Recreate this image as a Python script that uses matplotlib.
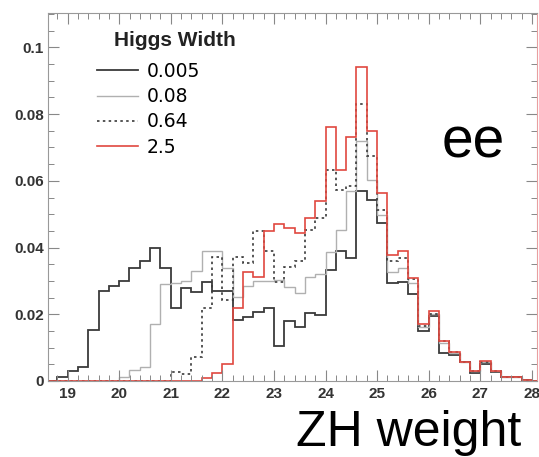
import matplotlib
matplotlib.use("Agg")
import matplotlib.pyplot as plt
from matplotlib.ticker import MultipleLocator
import numpy as np

# ZH weight distributions, bin width 0.2 from 18.6 to 28.2
edges = np.round(np.arange(18.6, 28.2001, 0.2), 1)

w0005 = [0, 0.0012, 0.003, 0.0043, 0.0153, 0.027, 0.0285, 0.030, 0.034, 0.036,
         0.040, 0.034, 0.022, 0.0278, 0.0268, 0.0298, 0.027, 0.027, 0.0183, 0.0193,
         0.0208, 0.0218, 0.0105, 0.018, 0.0163, 0.0205, 0.0198, 0.0333, 0.039, 0.037,
         0.057, 0.0543, 0.0473, 0.0293, 0.0298, 0.026, 0.0151, 0.0195, 0.0083, 0.0078,
         0.0058, 0.0025, 0.0051, 0.0028, 0.0013, 0.0013, 0.0002, 0]
w008 = [0, 0, 0, 0, 0, 0, 0, 0.0013, 0.0033, 0.0043,
        0.017, 0.029, 0.0293, 0.030, 0.033, 0.039, 0.039, 0.0338, 0.0253, 0.0285,
        0.030, 0.030, 0.0303, 0.0283, 0.0263, 0.0313, 0.032, 0.0388, 0.0453, 0.057,
        0.0718, 0.0603, 0.0498, 0.0328, 0.0338, 0.0295, 0.0162, 0.020, 0.0115, 0.0085,
        0.0058, 0.003, 0.0057, 0.003, 0.0013, 0.0013, 0.0002, 0]
w064 = [0, 0, 0, 0, 0, 0, 0, 0, 0, 0,
        0, 0, 0.0028, 0.0021, 0.0073, 0.022, 0.0373, 0.0243, 0.0371, 0.0355,
        0.0451, 0.039, 0.0298, 0.0343, 0.036, 0.0452, 0.0488, 0.0633, 0.0573, 0.0583,
        0.083, 0.0673, 0.0513, 0.036, 0.0368, 0.0305, 0.0165, 0.0202, 0.012, 0.0086,
        0.0058, 0.003, 0.0058, 0.003, 0.0013, 0.0013, 0.0002, 0]
w25 = [0, 0, 0, 0, 0, 0, 0, 0, 0, 0,
       0, 0, 0, 0, 0, 0.0008, 0.0023, 0.0051, 0.022, 0.0328,
       0.0313, 0.0451, 0.047, 0.0458, 0.0443, 0.0488, 0.054, 0.076, 0.0633, 0.073,
       0.094, 0.075, 0.0563, 0.0378, 0.039, 0.031, 0.0171, 0.021, 0.0121, 0.0088,
       0.0058, 0.0031, 0.006, 0.0031, 0.0013, 0.0013, 0.0002, 0]

labels = ["0.005", "0.08", "0.64", "2.5"]

fig = plt.figure(figsize=(5.39, 4.57), dpi=100)
ax = fig.add_axes([48 / 539, 76 / 457, 489 / 539, 368 / 457])

ax.stairs(w0005, edges, color="#3a3a3a", lw=1.3, label=labels[0])
ax.stairs(w008, edges, color="#b0b0b0", lw=1.0, label=labels[1])
ax.stairs(w064, edges, color="#3a3a3a", lw=1.2, ls=(0, (1.5, 2)), label=labels[2])
ax.stairs(w25, edges, color="#e0483f", lw=1.2, label=labels[3])

ax.set_xlim(18.62, 28.1)
ax.set_ylim(0, 0.1103)

ax.xaxis.set_major_locator(MultipleLocator(1))
ax.xaxis.set_minor_locator(MultipleLocator(0.2))
ax.yaxis.set_major_locator(MultipleLocator(0.02))
ax.yaxis.set_minor_locator(MultipleLocator(0.005))
ax.yaxis.set_major_formatter(matplotlib.ticker.FuncFormatter(
    lambda v, pos: "0" if v == 0 else f"{v:g}"))

ax.tick_params(which="both", direction="in", top=True, right=True, color="#888888",
               labelcolor="#333333")
ax.tick_params(which="major", length=8, width=0.8)
ax.tick_params(which="minor", length=4, width=0.7)
ax.tick_params(axis="y", pad=3)
ax.tick_params(axis="x", pad=4)
for lab in ax.get_xticklabels() + ax.get_yticklabels():
    lab.set_fontfamily("Liberation Sans")
    lab.set_fontweight("bold")
    lab.set_fontsize(11)

for side in ["left", "top", "bottom"]:
    ax.spines[side].set_color("#999999")
ax.spines["right"].set_color("#e8a0a0")

ax.text(114 / 539 - 48 / 539, 0, "Higgs Width", fontsize=15, fontweight="bold",
        family="Liberation Sans", color="#222222", va="center",
        transform=matplotlib.transforms.blended_transform_factory(fig.transFigure, fig.transFigure)
        + matplotlib.transforms.Affine2D().translate(48, 457 - 41))
ax.legend(loc="upper left", bbox_to_anchor=(97 / 539, 1 - 62 / 457),
          bbox_transform=fig.transFigure, frameon=False,
          fontsize=13.5, handlelength=2.2, handletextpad=0.45, labelspacing=0.33,
          borderpad=0, borderaxespad=0)

fig.text(442 / 539, 1 - 158 / 457, "ee", fontsize=41, family="Liberation Sans")
fig.text(296 / 539, 1 - 446 / 457, "ZH weight", fontsize=36, family="Liberation Sans")

fig.savefig("out.png", dpi=100)
